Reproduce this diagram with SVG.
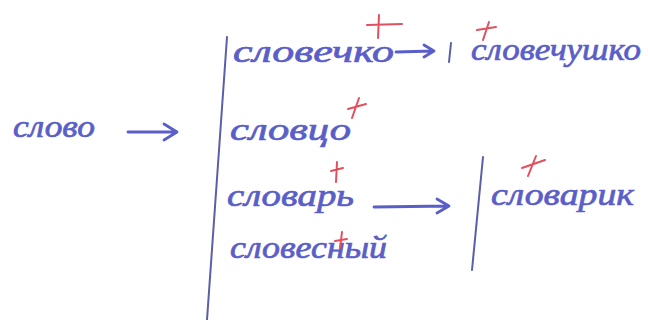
<svg xmlns="http://www.w3.org/2000/svg" width="648" height="320" viewBox="0 0 648 320">
<style>
.w{font-family:"Liberation Serif","DejaVu Serif",serif;font-style:italic;font-size:32px;fill:#5a5ec8;stroke:#5a5ec8;stroke-width:0.7;}
.ink{stroke:#5a5ec8;stroke-width:2.8;fill:none;stroke-linecap:round;stroke-linejoin:round;}
.bar{stroke:#5b5ea8;stroke-width:2;fill:none;stroke-linecap:round;}
.mark{stroke:#e0505e;stroke-width:2;fill:none;stroke-linecap:round;}
</style>
<rect width="648" height="320" fill="#ffffff"/>
<g id="connectors">
  <path class="bar" d="M227 37 L207 320"/>
  <path class="bar" d="M483 157 L472 270"/>
  <path class="bar" d="M451 43 L449 62"/>
  <path class="ink" d="M128 132 L176 132 M164 124 L177 132 L164 140"/>
  <path class="ink" d="M396 52 L433 51 M424 45 L434 51 L424 57"/>
  <path class="ink" d="M374 207 L448 206 M437 199 L449 206 L437 213"/>
</g>
<g id="node-slovo"><text class="w" x="13" y="137" textLength="82" lengthAdjust="spacingAndGlyphs">слово</text></g>
<g id="node-slovechko">
  <text class="w" x="233" y="62" textLength="161" lengthAdjust="spacingAndGlyphs">словечко</text>
  <path class="mark" d="M367 25 L402 24 M379 15 L378 38"/>
</g>
<g id="node-slovechushko">
  <text class="w" x="471" y="60" textLength="170" lengthAdjust="spacingAndGlyphs">словечушко</text>
  <path class="mark" d="M477 30 L496 27 M489 22 L483 40"/>
</g>
<g id="node-slovtso">
  <text class="w" x="230" y="140" textLength="121" lengthAdjust="spacingAndGlyphs">словцо</text>
  <path class="mark" d="M348 109 L366 104 M359 98 L352 118"/>
</g>
<g id="node-slovar">
  <text class="w" x="227" y="206" textLength="127" lengthAdjust="spacingAndGlyphs">словарь</text>
  <path class="mark" d="M331 171 L343 168 M337 162 L336 182"/>
</g>
<g id="node-slovesny">
  <text class="w" x="230" y="258" textLength="157" lengthAdjust="spacingAndGlyphs">словесный</text>
  <path class="mark" d="M335 241 L347 239 M342 232 L340 248"/>
</g>
<g id="node-slovarik">
  <text class="w" x="491" y="205" textLength="143" lengthAdjust="spacingAndGlyphs">словарик</text>
  <path class="mark" d="M522 168 L545 160 M536 156 L528 176"/>
</g>
</svg>
